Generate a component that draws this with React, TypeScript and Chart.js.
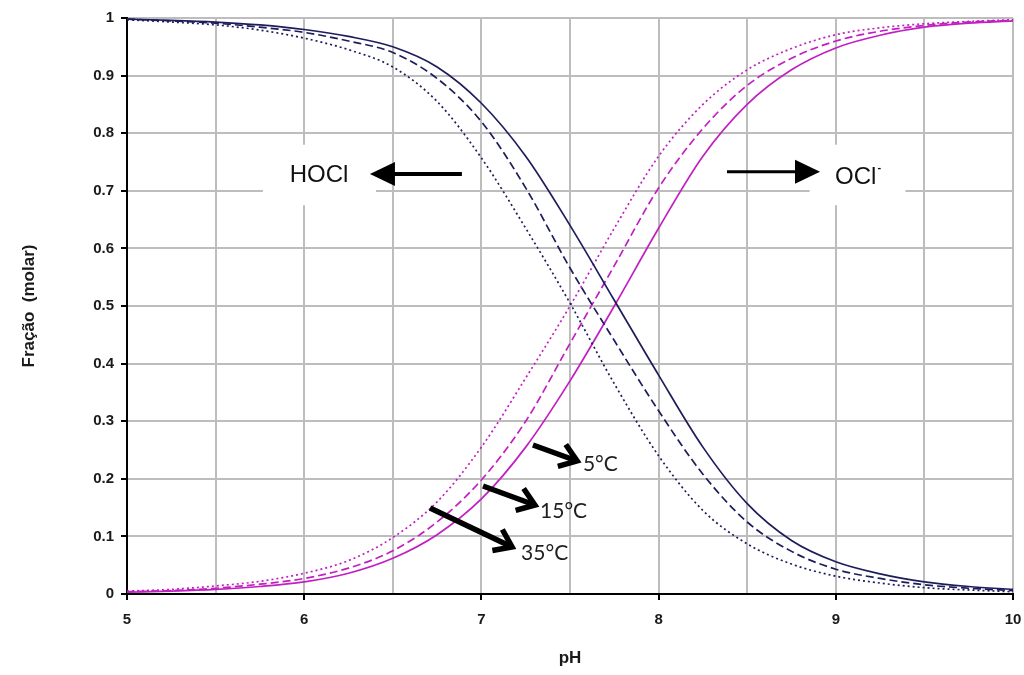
import React, { useEffect, useRef } from 'react';
import { Chart, registerables } from 'chart.js';

Chart.register(...registerables);

// pH grid of readings
const pHValues = [5, 5.25, 5.5, 5.75, 6, 6.25, 6.5, 6.75, 7, 7.25, 7.5, 7.75, 8, 8.25, 8.5, 8.75, 9, 9.25, 9.5, 9.75, 10];

// HOCl fraction (navy)
const hocl5C = [0.998, 0.996, 0.993, 0.988, 0.98, 0.968, 0.95, 0.915, 0.852, 0.76, 0.64, 0.51, 0.38, 0.255, 0.157, 0.093, 0.056, 0.035, 0.021, 0.013, 0.008];
const hocl15C = [0.998, 0.995, 0.991, 0.984, 0.975, 0.96, 0.94, 0.895, 0.82, 0.705, 0.566, 0.44, 0.318, 0.208, 0.125, 0.074, 0.043, 0.027, 0.016, 0.01, 0.006];
const hocl35C = [0.997, 0.993, 0.988, 0.979, 0.965, 0.945, 0.915, 0.855, 0.757, 0.635, 0.505, 0.365, 0.24, 0.145, 0.087, 0.052, 0.031, 0.019, 0.011, 0.007, 0.004];

// OCl- fraction (magenta)
const ocl5C = [0.003, 0.005, 0.008, 0.013, 0.021, 0.036, 0.062, 0.103, 0.165, 0.255, 0.37, 0.5, 0.635, 0.76, 0.85, 0.91, 0.948, 0.97, 0.984, 0.991, 0.995];
const ocl15C = [0.004, 0.006, 0.01, 0.017, 0.027, 0.045, 0.075, 0.125, 0.198, 0.3, 0.435, 0.57, 0.705, 0.808, 0.883, 0.93, 0.96, 0.977, 0.987, 0.993, 0.996];
const ocl35C = [0.005, 0.008, 0.014, 0.022, 0.036, 0.058, 0.098, 0.16, 0.255, 0.375, 0.5, 0.635, 0.76, 0.85, 0.91, 0.947, 0.971, 0.983, 0.99, 0.994, 0.997];

const xTitle = 'pH';
const yTitle = 'Fração  (molar)';
const speciesLabels = ['HOCl', 'OCl'];
const tempLabels = ['5°C', '15°C', '35°C'];

const NAVY = '#1d1d5c';
const MAGENTA = '#c21fc2';

const toPts = (ys: number[]) => pHValues.map((x, i) => ({ x, y: ys[i] }));

const annotPlugin = {
  id: 'annot',
  beforeDatasetsDraw(chart: any) {
    const { ctx, scales } = chart;
    const X = (v: number) => scales.x.getPixelForValue(v);
    const Y = (v: number) => scales.y.getPixelForValue(v);
    ctx.save();
    ctx.fillStyle = '#ffffff';
    const box = (x1: number, y1: number, x2: number, y2: number) => {
      ctx.fillRect(X(x1), Y(y1), X(x2) - X(x1), Y(y2) - Y(y1));
    };
    box(5.767, 0.78, 6.405, 0.675);
    box(8.852, 0.78, 9.393, 0.675);
    ctx.restore();
  },
  afterDatasetsDraw(chart: any) {
    const { ctx, scales } = chart;
    const X = (v: number) => scales.x.getPixelForValue(v);
    const Y = (v: number) => scales.y.getPixelForValue(v);
    ctx.save();
    const filledArrow = (x1: number, x2: number, yv: number, w: number, dir: number) => {
      const sx = X(x1), ex = X(x2), py = Y(yv);
      const headLen = 25, headHalf = 12;
      ctx.strokeStyle = '#000';
      ctx.fillStyle = '#000';
      ctx.lineWidth = w;
      ctx.beginPath();
      ctx.moveTo(sx, py);
      ctx.lineTo(ex - dir * headLen + dir * 2, py);
      ctx.stroke();
      ctx.beginPath();
      ctx.moveTo(ex, py);
      ctx.lineTo(ex - dir * headLen, py - headHalf);
      ctx.lineTo(ex - dir * headLen, py + headHalf);
      ctx.closePath();
      ctx.fill();
    };
    filledArrow(6.89, 6.371, 0.729, 4, -1);
    filledArrow(8.386, 8.911, 0.733, 3, 1);

    ctx.fillStyle = '#111';
    ctx.font = '24px "Liberation Sans", Arial, sans-serif';
    ctx.textBaseline = 'middle';
    ctx.textAlign = 'center';
    ctx.fillText(speciesLabels[0], X(6.084), Y(0.727));
    ctx.textAlign = 'left';
    const oclX = X(8.996);
    ctx.fillText(speciesLabels[1], oclX, Y(0.724));
    const w = ctx.measureText(speciesLabels[1]).width;
    ctx.font = 'bold 11px "Liberation Sans", Arial, sans-serif';
    ctx.fillText('-', oclX + w + 1, Y(0.724) - 9);

    const tArrow = (x1: number, y1: number, x2: number, y2: number) => {
      const ax = X(x1), ay = Y(y1), bx = X(x2), by = Y(y2);
      const ang = Math.atan2(by - ay, bx - ax);
      const arm = 20, spread = 0.62;
      ctx.strokeStyle = '#000';
      ctx.lineWidth = 5.5;
      ctx.lineCap = 'butt';
      ctx.lineJoin = 'miter';
      ctx.beginPath();
      ctx.moveTo(ax, ay);
      ctx.lineTo(bx - 3 * Math.cos(ang), by - 3 * Math.sin(ang));
      ctx.stroke();
      ctx.beginPath();
      ctx.moveTo(bx - arm * Math.cos(ang - spread), by - arm * Math.sin(ang - spread));
      ctx.lineTo(bx, by);
      ctx.lineTo(bx - arm * Math.cos(ang + spread), by - arm * Math.sin(ang + spread));
      ctx.stroke();
    };
    tArrow(7.291, 0.2587, 7.54, 0.2309);
    tArrow(7.009, 0.1875, 7.302, 0.1545);
    tArrow(6.71, 0.1493, 7.173, 0.0816);

    ctx.fillStyle = '#1e1e1e';
    ctx.font = '21px Lato, "Open Sans", sans-serif';
    ctx.textAlign = 'left';
    ctx.textBaseline = 'middle';
    ctx.fillText(tempLabels[0], X(7.573), Y(0.2257));
    ctx.fillText(tempLabels[1], X(7.331), Y(0.144));
    ctx.fillText(tempLabels[2], X(7.224), Y(0.0712));
    ctx.restore();
  },
};

export default function App() {
  const canvasRef = useRef<HTMLCanvasElement | null>(null);

  useEffect(() => {
    if (!canvasRef.current) return;
    const tickFont = { family: '"Liberation Sans", Arial, sans-serif', size: 15, weight: 'bold' as const };
    const ds = (label: string, data: number[], color: string, dash: number[]) => ({
      label,
      data: toPts(data),
      borderColor: color,
      backgroundColor: color,
      borderWidth: 1.7,
      borderDash: dash,
      pointRadius: 0,
      fill: false,
      cubicInterpolationMode: 'monotone' as const,
    });
    const chart = new Chart(canvasRef.current, {
      type: 'line',
      data: {
        datasets: [
          ds('HOCl 35°C', hocl35C, NAVY, [2, 3]),
          ds('HOCl 15°C', hocl15C, NAVY, [8, 4]),
          ds('HOCl 5°C', hocl5C, NAVY, []),
          ds('OCl 35°C', ocl35C, MAGENTA, [2, 3]),
          ds('OCl 15°C', ocl15C, MAGENTA, [8, 4]),
          ds('OCl 5°C', ocl5C, MAGENTA, []),
        ],
      },
      options: {
        animation: false,
        responsive: true,
        maintainAspectRatio: false,
        layout: { padding: { top: 18, right: 0, left: 0, bottom: 0 } },
        plugins: { legend: { display: false }, tooltip: { enabled: false } },
        scales: {
          x: {
            type: 'linear',
            min: 5,
            max: 10,
            afterFit: (s: any) => { s.height = 81; s.paddingRight = 11; s.paddingLeft = 0; },
            ticks: {
              stepSize: 0.5,
              autoSkip: false,
              maxRotation: 0,
              padding: 11,
              color: '#1a1a1a',
              font: tickFont,
              callback: (v: any) => (Number.isInteger(Number(v)) ? String(v) : ''),
            },
            grid: {
              color: '#bdbdbd',
              lineWidth: 2,
              tickLength: 6,
              tickColor: (c: any) => (Number.isInteger(c.tick?.value) ? '#000' : 'rgba(0,0,0,0)'),
            },
            border: { color: '#000', width: 2 },
            title: {
              display: true,
              text: xTitle,
              color: '#1a1a1a',
              font: { family: '"Liberation Sans", Arial, sans-serif', size: 17, weight: 'bold' },
              padding: { top: 0, bottom: 6 },
            },
          },
          y: {
            min: 0,
            max: 1,
            afterFit: (s: any) => { s.width = 127; },
            ticks: {
              stepSize: 0.1,
              padding: 7,
              color: '#1a1a1a',
              font: tickFont,
              callback: (v: any) => Number(v).toFixed(1).replace(/\.0$/, ''),
            },
            grid: {
              color: '#bdbdbd',
              lineWidth: 2,
              tickLength: 6,
              tickColor: '#000',
            },
            border: { color: '#000', width: 2 },
            title: {
              display: true,
              text: yTitle,
              color: '#1a1a1a',
              font: { family: '"Liberation Sans", Arial, sans-serif', size: 17, weight: 'bold' },
              padding: { top: 19, bottom: 0 },
            },
          },
        },
      },
      plugins: [annotPlugin],
    });
    return () => chart.destroy();
  }, []);

  return (
    <div style={{ position: 'fixed', left: 0, top: 0, width: 1024, height: 675, background: '#fff' }}>
      <canvas ref={canvasRef} />
    </div>
  );
}
